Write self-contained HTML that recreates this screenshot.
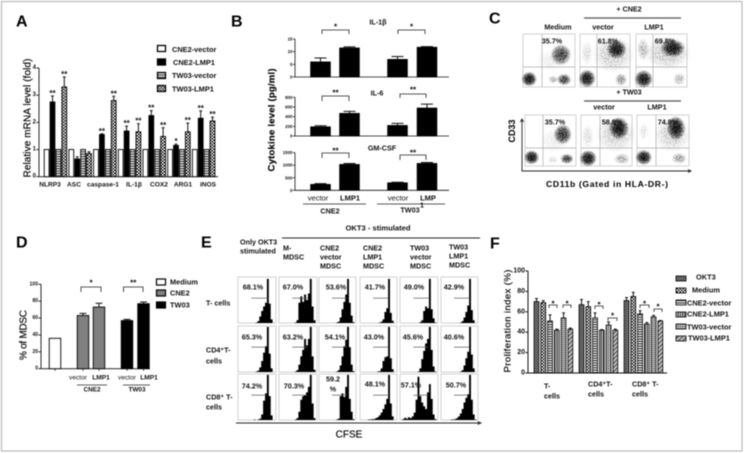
<!DOCTYPE html>
<html lang="en">
<head>
<meta charset="utf-8">
<title>Multi-panel figure</title>
<style>
html,body{margin:0;padding:0;background:#fff;width:745px;height:453px;overflow:hidden}
svg{display:block;filter:blur(0.45px)}
text{font-family:"Liberation Sans",sans-serif;dominant-baseline:central;fill:#111}
.b{font-weight:bold}
.m{text-anchor:middle}
.letter{font-size:16px;font-weight:bold;fill:#000}
.lab{font-size:7.2px;font-weight:bold;fill:#111}
.leg{font-size:7.4px;font-weight:bold;fill:#111}
.tick{font-size:5.2px;font-weight:bold;text-anchor:end;fill:#111}
.title{font-size:10px;fill:#000;stroke:#000;stroke-width:0.15px;text-anchor:middle}
.star{font-size:8px;font-weight:bold;text-anchor:middle;fill:#111}
</style>
</head>
<body>
<svg id="fig" xmlns="http://www.w3.org/2000/svg" width="745" height="453" viewBox="0 0 745 453">
<defs>
  <pattern id="p-hstripe" width="3" height="2.4" patternUnits="userSpaceOnUse"><rect width="3" height="2.4" fill="#fff"/><rect width="3" height="1.2" fill="#333"/></pattern>
  <pattern id="p-vstripe" width="2.2" height="3" patternUnits="userSpaceOnUse"><rect width="2.2" height="3" fill="#eee"/><rect width="1.1" height="3" fill="#222"/></pattern>
  <pattern id="p-check" width="3" height="3" patternUnits="userSpaceOnUse"><rect width="3" height="3" fill="#111"/><rect width="1.5" height="1.5" fill="#fff"/><rect x="1.5" y="1.5" width="1.5" height="1.5" fill="#fff"/></pattern>
  <pattern id="p-dark" width="2.4" height="2.4" patternUnits="userSpaceOnUse"><rect width="2.4" height="2.4" fill="#555"/><rect width="1.2" height="1.2" fill="#888"/></pattern>
  <pattern id="p-fine" width="2" height="2" patternUnits="userSpaceOnUse"><rect width="2" height="2" fill="#bbb"/><rect width="1" height="1" fill="#444"/></pattern>
  <pattern id="p-diag" width="3" height="3" patternUnits="userSpaceOnUse" patternTransform="rotate(45)"><rect width="3" height="3" fill="#ccc"/><rect width="1.3" height="3" fill="#555"/></pattern>
  <radialGradient id="blob"><stop offset="0" stop-color="#000" stop-opacity="1"/><stop offset="0.45" stop-color="#000" stop-opacity="0.8"/><stop offset="1" stop-color="#000" stop-opacity="0"/></radialGradient>
  <filter id="grain" x="0" y="0" width="100%" height="100%">
    <feTurbulence type="fractalNoise" baseFrequency="0.85" numOctaves="2" seed="4" result="n"/>
    <feColorMatrix in="n" type="matrix" values="0 0 0 0 0  0 0 0 0 0  0 0 0 0 0  0 0 0 7 -3" result="s"/>
    <feComposite in="SourceGraphic" in2="s" operator="in"/>
  </filter>
</defs>

<rect x="1.5" y="1.5" width="740.5" height="449.5" fill="#fff" stroke="#b9b9b9" stroke-width="1.2"/>

<!-- panel letters -->
<text class="letter" x="16" y="22">A</text>
<text class="letter" x="231" y="22">B</text>
<text class="letter" x="489" y="19">C</text>
<text class="letter" x="16" y="243">D</text>
<text class="letter" x="201" y="243">E</text>
<text class="letter" x="490" y="244">F</text>

<!-- Panel A -->
<g>
  <text class="title" transform="translate(28 118) rotate(-90)" textLength="119">Relative mRNA level (fold)</text>
  <g>
    <rect x="157.5" y="45.5" width="8" height="6" fill="#fff" stroke="#000" stroke-width="1.3"/>
    <rect x="157.5" y="59" width="8" height="6" fill="#000" stroke="#000" stroke-width="1.3"/>
    <rect x="157.5" y="72.5" width="8" height="6" fill="url(#p-hstripe)" stroke="#000" stroke-width="1.3"/>
    <rect x="157.5" y="85.5" width="8" height="6" fill="url(#p-check)" stroke="#000" stroke-width="1.3"/>
    <text class="leg" x="172" y="49.5">CNE2-vector</text>
    <text class="leg" x="173" y="62.5">CNE2-LMP1</text>
    <text class="leg" x="172" y="75.5">TW03-vector</text>
    <text class="leg" x="172" y="89">TW03-LMP1</text>
  </g>
  <g id="a-marks"></g>
</g>

<!-- Panel B -->
<g>
  <text class="lab m" x="378" y="22">IL-1β</text>
  <text class="lab m" x="377" y="93">IL-6</text>
  <text class="lab m" x="382" y="148">GM-CSF</text>
  <text class="title" style="font-size:9.5px;font-weight:bold" transform="translate(272 120) rotate(-90)" textLength="103">Cytokine level  (pg/ml)</text>
  <g id="b-marks"></g>
  <text class="lab m" style="font-weight:normal;font-size:7.5px" x="318" y="198">vector</text>
  <text class="lab m" style="font-size:7.5px" x="350" y="198">LMP1</text>
  <text class="lab m" style="font-weight:normal;font-size:7.5px" x="398" y="198">vector</text>
  <text class="lab m" style="font-size:7.5px" x="428" y="198">LMP</text>
  <text class="lab" style="font-size:7px" x="420" y="206">1</text>
  <line x1="303" x2="366" y1="204" y2="204" stroke="#222" stroke-width="0.8"/>
  <line x1="377" x2="445" y1="204" y2="204" stroke="#222" stroke-width="0.8"/>
  <text class="lab m" x="330" y="211">CNE2</text>
  <text class="lab m" x="410" y="210">TW03</text>
</g>

<!-- Panel C -->
<g>
  <g id="c-marks"></g>
  <text class="lab m" x="629" y="9">+ CNE2</text>
  <line x1="584" x2="681" y1="18" y2="18" stroke="#555" stroke-width="1.2"/>
  <text class="lab m" x="558" y="27">Medium</text>
  <text class="lab m" x="603" y="27">vector</text>
  <text class="lab m" x="654" y="27">LMP1</text>
  <text class="lab m" x="629" y="92">+ TW03</text>
  <line x1="584" x2="681" y1="101" y2="101" stroke="#555" stroke-width="1.2"/>
  <text class="lab m" x="604" y="107">vector</text>
  <text class="lab m" x="657" y="107">LMP1</text>
  <text class="lab m" x="552" y="41">35.7%</text>
  <text class="lab m" x="608" y="41">61.8%</text>
  <text class="lab m" x="665" y="41">69.8%</text>
  <text class="lab m" x="555" y="122">35.7%</text>
  <text class="lab m" x="612" y="122">58.8%</text>
  <text class="lab m" x="668" y="122">74.8%</text>
  <path d="M522 119V171H690M520.3 122L522 119L523.7 122M688 169.5L691 171L688 172.5" fill="none" stroke="#222" stroke-width="0.9"/>
  <text class="title b" style="font-size:9px;stroke-width:0" transform="translate(512 131) rotate(-90)">CD33</text>
  <text class="title b" style="font-size:8.6px;stroke-width:0" x="607" y="184" textLength="122">CD11b (Gated in HLA-DR-)</text>
</g>

<!-- Panel D -->
<g>
  <text class="title" transform="translate(24 335) rotate(-90)" textLength="50">% of MDSC</text>
  <g id="d-marks"></g>
  <g>
    <rect x="156.5" y="279" width="9" height="6" fill="#fff" stroke="#000" stroke-width="1.2"/>
    <rect x="156.5" y="290" width="9" height="6" fill="#808080" stroke="#000" stroke-width="1.2"/>
    <rect x="156.5" y="302" width="9" height="6" fill="#000" stroke="#000" stroke-width="1.2"/>
    <text class="leg" x="170" y="282">Medium</text>
    <text class="leg" x="170" y="293">CNE2</text>
    <text class="leg" x="170" y="305">TW03</text>
  </g>
  <text class="lab m" style="font-size:6.6px;font-weight:normal" x="78" y="378">vector</text>
  <text class="lab m" style="font-size:6.6px" x="101" y="378">LMP1</text>
  <text class="lab m" style="font-size:6.6px;font-weight:normal" x="127" y="378">vector</text>
  <text class="lab m" style="font-size:6.6px" x="149" y="378">LMP1</text>
  <line x1="77" x2="107" y1="385" y2="385" stroke="#222" stroke-width="0.7"/>
  <line x1="123" x2="150" y1="385" y2="385" stroke="#222" stroke-width="0.7"/>
  <text class="lab m" style="font-size:6.4px" x="92" y="390">CNE2</text>
  <text class="lab m" style="font-size:6.4px" x="137" y="390">TW03</text>
</g>

<!-- Panel E -->
<g>
  <text class="lab m" style="font-size:7.6px" x="378" y="228">OKT3 - stimulated</text>
  <line x1="282" x2="480" y1="238" y2="238" stroke="#222" stroke-width="0.9"/>
  <text class="lab" x="240" y="242">Only OKT3</text>
  <text class="lab" x="240" y="251">stimulated</text>
  <text class="lab" x="283" y="248">M-</text>
  <text class="lab" x="283" y="257">MDSC</text>
  <text class="lab" x="320" y="248">CNE2</text>
  <text class="lab" x="320" y="257">vector</text>
  <text class="lab" x="320" y="266">MDSC</text>
  <text class="lab" x="363" y="248">CNE2</text>
  <text class="lab" x="363" y="257">LMP1</text>
  <text class="lab" x="363" y="266">MDSC</text>
  <text class="lab" x="410" y="248">TW03</text>
  <text class="lab" x="410" y="257">vector</text>
  <text class="lab" x="410" y="266">MDSC</text>
  <text class="lab" x="449" y="247">TW03</text>
  <text class="lab" x="449" y="256">LMP1</text>
  <text class="lab" x="449" y="265">MDSC</text>
  <text class="lab" x="206" y="303">T- cells</text>
  <text class="lab" x="206" y="350">CD4⁺T-</text>
  <text class="lab" x="206" y="361">cells</text>
  <text class="lab" x="206" y="397">CD8⁺ T-</text>
  <text class="lab" x="206" y="407">cells</text>
  <g id="e-marks"></g>
  <text class="lab m" x="253" y="287">68.1%</text>
  <text class="lab m" x="293" y="287">67.0%</text>
  <text class="lab m" x="336" y="287">53.6%</text>
  <text class="lab m" x="375" y="287">41.7%</text>
  <text class="lab m" x="414" y="287">49.0%</text>
  <text class="lab m" x="454" y="287">42.9%</text>
  <text class="lab m" x="252" y="337">65.3%</text>
  <text class="lab m" x="293" y="337">63.2%</text>
  <text class="lab m" x="335" y="337">54.1%</text>
  <text class="lab m" x="374" y="337">43.0%</text>
  <text class="lab m" x="413" y="337">45.6%</text>
  <text class="lab m" x="454" y="337">40.6%</text>
  <text class="lab m" x="252" y="386">74.2%</text>
  <text class="lab m" x="294" y="386">70.3%</text>
  <text class="lab m" x="333" y="379">59.2</text>
  <text class="lab m" x="333" y="389">%</text>
  <text class="lab m" x="375" y="384">48.1%</text>
  <text class="lab m" x="411" y="385">57.1%</text>
  <text class="lab m" x="456" y="385">50.7%</text>
  <path d="M236 423H480M477.5 421.5L481 423L477.5 424.5" fill="none" stroke="#222" stroke-width="0.9"/>
  <text class="title" x="349" y="435">CFSE</text>
</g>

<!-- Panel F -->
<g>
  <text class="title" style="font-size:9.6px" transform="translate(508 321) rotate(-90)" textLength="103">Proliferation index (%)</text>
  <g id="f-marks"></g>
  <text class="lab" x="544" y="386">T-</text>
  <text class="lab" x="544" y="396">cells</text>
  <text class="lab" x="588" y="384">CD4⁺T-</text>
  <text class="lab" x="588" y="394">cells</text>
  <text class="lab" x="632" y="384">CD8⁺ T-</text>
  <text class="lab" x="632" y="394">cells</text>
  <g>
    <rect x="676" y="276" width="10" height="5" fill="url(#p-dark)" stroke="#000" stroke-width="0.8"/>
    <rect x="676" y="288" width="10" height="5" fill="url(#p-check)" stroke="#000" stroke-width="0.8"/>
    <rect x="676" y="300" width="10" height="5" fill="url(#p-hstripe)" stroke="#000" stroke-width="0.8"/>
    <rect x="676" y="312" width="10" height="5" fill="url(#p-vstripe)" stroke="#000" stroke-width="0.8"/>
    <rect x="676" y="324" width="10" height="5" fill="url(#p-fine)" stroke="#000" stroke-width="0.8"/>
    <rect x="676" y="336" width="10" height="5" fill="url(#p-diag)" stroke="#000" stroke-width="0.8"/>
    <text class="leg" x="696" y="277">OKT3</text>
    <text class="leg" x="692" y="290">Medium</text>
    <text class="leg" x="687" y="303">CNE2-vector</text>
    <text class="leg" x="687" y="314">CNE2-LMP1</text>
    <text class="leg" x="687" y="327">TW03-vector</text>
    <text class="leg" x="688" y="338">TW03-LMP1</text>
  </g>
</g>

<script>
/* ---------- Panel A data ---------- */
var aCategories = ['NLRP3','ASC','caspase-1','IL-1β','COX2','ARG1','iNOS'];
var aCne2Vector = [1,1,1,1,1,1,1];
var aCne2Lmp1 = [2.75,0.65,1.55,1.68,2.25,1.15,2.15];
var aTw03Vector = [1,1,1,1,1,1,1];
var aTw03Lmp1 = [3.3,0.85,2.8,1.65,1.48,1.65,2.05];
var aErrCne2Lmp1 = [0.22,0.08,0.03,0.18,0.18,0.05,0.27];
var aErrTw03Lmp1 = [0.37,0.07,0.16,0.3,0.32,0.32,0.14];
var aSigCne2 = ['**','','**','**','**','*','**'];
var aSigTw03 = ['**','','**','**','**','**','**'];
var aTicks = [0,1,2,3,4];

/* ---------- Panel B data ---------- */
var bIl1 = [6,11.5,7,11.8];
var bIl1Err = [1.5,0.4,1.1,0.2];
var bIl1Ticks = [0,5,10,15];
var bIl6 = [193,470,220,580];
var bIl6Err = [20,40,40,80];
var bIl6Ticks = [0,200,400,600,800];
var bGm = [240,1035,305,1075];
var bGmErr = [25,35,15,35];
var bGmTicks = [0,500,1000,1500];

/* ---------- Panel D data ---------- */
var dCategories = ['Medium','CNE2 vector','CNE2 LMP1','TW03 vector','TW03 LMP1'];
var dValues = [36,63,73,57,77];
var dErrors = [0,2.5,4.5,1.5,2];
var dTicks = [0,20,40,60,80,100];

/* ---------- Panel F data ---------- */
var fGroups = ['T-cells','CD4 T-cells','CD8 T-cells'];
var fOkt3 = [70,67,71];
var fMedium = [69,65,75];
var fCne2Vector = [51,54,58];
var fCne2Lmp1 = [42,42,48];
var fTw03Vector = [54,47,55];
var fTw03Lmp1 = [43,42,51];
var fErrOkt3 = [3,5,3];
var fErrMedium = [2,5,4];
var fErrCne2Vector = [6,5,3];
var fErrCne2Lmp1 = [1,0.5,1.5];
var fErrTw03Vector = [5,3,1.5];
var fErrTw03Lmp1 = [1,1,0.5];
var fTicks = [0,20,40,60,80,100];

/* ---------- Panel E histogram counts (percent of panel height per bin) ---------- */
var eR1C1 = [0,0,0,0,0,0,0,0,0,0,1,4,14,26,36,44,96,42,8,0];
var eR1C2 = [0,0,0,0,0,0,0,0,0,1,6,44,58,46,62,50,64,96,36,6];
var eR1C3 = [0,0,0,0,0,0,0,0,0,0,1,3,12,30,46,62,96,44,16,2];
var eR1C4 = [0,0,0,0,0,0,0,0,0,0,0,1,3,8,24,32,96,22,5,0];
var eR1C5 = [0,0,0,0,0,0,0,0,0,0,0,2,6,26,36,32,96,30,10,1];
var eR1C6 = [0,0,0,0,0,0,0,0,0,0,0,1,4,12,24,38,96,28,6,0];
var eR2C1 = [0,0,0,0,0,0,0,0,0,0,1,3,10,24,42,56,98,40,8,0];
var eR2C2 = [0,0,0,0,0,0,0,0,0,1,4,16,34,48,72,58,72,98,34,5];
var eR2C3 = [0,0,0,0,0,0,0,0,0,0,1,4,14,34,56,70,98,54,16,2];
var eR2C4 = [0,0,0,0,0,0,0,0,0,0,1,2,8,24,32,34,98,30,6,0];
var eR2C5 = [0,0,0,0,0,0,0,0,0,0,1,8,28,46,62,72,98,48,12,1];
var eR2C6 = [0,0,0,0,0,0,0,0,0,0,0,1,4,14,30,44,98,38,8,0];
var eR3C1 = [0,0,0,0,0,0,0,0,0,1,0,1,3,12,42,58,98,52,10,0];
var eR3C2 = [0,0,0,0,0,0,0,0,0,1,4,18,44,52,54,60,72,98,36,4];
var eR3C3 = [0,0,0,0,0,0,0,0,0,0,1,3,52,58,50,72,98,46,18,2];
var eR3C4 = [0,0,0,0,0,1,1,2,2,4,6,10,16,24,34,46,98,36,8,0];
var eR3C5 = [0,0,2,5,3,6,4,8,16,44,94,52,38,30,24,60,78,46,12,2];
var eR3C6 = [0,0,0,0,0,0,1,1,2,4,8,14,24,38,48,56,98,44,12,1];

/* ---------- Panel C population clusters: centre x, centre y, spread x, spread y, density (0-1 fractions of plot) ---------- */
var cR1Medium = [[.73,.39,.2,.2,.85],[.55,.5,.3,.2,.12],[.12,.85,.15,.14,1],[.79,.86,.14,.11,.85],[.58,.86,.1,.08,.4]];
var cR1Vector = [[.73,.29,.2,.18,1],[.66,.38,.42,.36,.3],[.14,.84,.17,.17,1],[.82,.86,.12,.12,.55],[.14,.36,.12,.24,.2]];
var cR1Lmp1 = [[.72,.27,.24,.17,1],[.62,.36,.46,.32,.32],[.15,.85,.18,.17,1],[.85,.85,.12,.12,.4],[.14,.29,.12,.22,.38]];
var cR2Medium = [[.74,.38,.18,.2,.9],[.58,.5,.3,.24,.12],[.13,.83,.15,.14,1],[.82,.86,.13,.1,.85],[.55,.88,.1,.08,.2]];
var cR2Vector = [[.74,.26,.2,.22,1],[.68,.38,.4,.36,.28],[.14,.85,.17,.16,1],[.8,.86,.16,.11,.45],[.13,.42,.12,.24,.2]];
var cR2Lmp1 = [[.75,.26,.18,.24,1],[.68,.38,.36,.36,.28],[.13,.83,.16,.15,1],[.81,.85,.15,.11,.5],[.13,.32,.09,.18,.18]];

/* ---------- helpers ---------- */
var NS = 'http://www.w3.org/2000/svg';
function linear(d0, d1, r0, r1) {
  return function (v) { return r0 + (v - d0) / (d1 - d0) * (r1 - r0); };
}
function add(parent, tag, attrs, name, label) {
  var node = document.createElementNS(NS, tag);
  for (var k in attrs) { node.setAttribute(k, attrs[k]); }
  
  
  if (label !== undefined) { node.textContent = label; }
  parent.appendChild(node);
  return node;
}
function yAxis(g, x, y, ticks, xEnd, prefix, tickSize, sw, fs) {
  add(g, 'line', {x1: x, x2: x, y1: y(ticks[ticks.length - 1]), y2: y(ticks[0]), stroke: '#111', 'stroke-width': sw}, prefix + '-y-axis');
  add(g, 'line', {x1: x, x2: xEnd, y1: y(ticks[0]), y2: y(ticks[0]), stroke: '#111', 'stroke-width': sw}, prefix + '-x-axis');
  ticks.forEach(function (t) {
    add(g, 'line', {x1: x - tickSize, x2: x, y1: y(t), y2: y(t), stroke: '#111', 'stroke-width': sw}, prefix + '-y-tick');
    var txt = add(g, 'text', {x: x - tickSize - 0.5, y: y(t), 'class': 'tick'}, prefix + '-y-tick-label', String(t));
    if (fs) { txt.style.fontSize = fs + 'px'; }
  });
}
function bar(g, cx, w, y, v, err, fill, name, sw) {
  var top = y(v), base = y(0);
  if (err > 0) {
    add(g, 'path', {d: 'M' + cx + ' ' + top + 'V' + y(v + err) + 'M' + (cx - w * 0.3) + ' ' + y(v + err) + 'H' + (cx + w * 0.3), stroke: '#111', 'stroke-width': 1, fill: 'none'}, name + '-error');
  }
  add(g, 'rect', {x: cx - w / 2, y: top, width: w, height: base - top, fill: fill, stroke: '#000', 'stroke-width': sw}, name);
}
function bracket(g, x1, x2, yTop, drop, stars, starY, name) {
  add(g, 'path', {d: 'M' + x1 + ' ' + (yTop + drop) + 'V' + yTop + 'H' + x2 + 'V' + (yTop + drop), fill: 'none', stroke: '#222', 'stroke-width': 0.8}, name + '-bracket');
  add(g, 'text', {x: (x1 + x2) / 2, y: starY, 'class': 'star'}, name + '-significance', stars);
}

/* ---------- Panel A ---------- */
(function () {
  var g = document.getElementById('a-marks');
  var y = linear(0, 4, 176.7, 68);
  yAxis(g, 39, y, aTicks, 218, 'a', 2.5, 0.9, 6);
  var gx = linear(0, 1, 46.6, 71.3);
  var series = [aCne2Vector, aCne2Lmp1, aTw03Vector, aTw03Lmp1];
  var errs = [null, aErrCne2Lmp1, null, aErrTw03Lmp1];
  var fills = ['#fff', '#000', 'url(#p-hstripe)', 'url(#p-check)'];
  var names = ['cne2-vector', 'cne2-lmp1', 'tw03-vector', 'tw03-lmp1'];
  var labelCentres = [50, 74, 103, 134, 159, 183, 208];
  aCategories.forEach(function (c, i) {
    series.forEach(function (s, j) {
      var cx = gx(i) + j * 5.9;
      bar(g, cx, 4.8, y, s[i], errs[j] ? errs[j][i] : 0, fills[j], 'a-bar-' + names[j], 0.9);
    });
    var e1 = aCne2Lmp1[i] + aErrCne2Lmp1[i], e2 = aTw03Lmp1[i] + aErrTw03Lmp1[i];
    if (aSigCne2[i]) { add(g, 'text', {x: gx(i) + 5.9, y: y(e1) - 2.5, 'class': 'star'}, 'a-significance', aSigCne2[i]); }
    if (aSigTw03[i]) { add(g, 'text', {x: gx(i) + 17.7, y: y(e2) - 2.5, 'class': 'star'}, 'a-significance', aSigTw03[i]); }
    var t = add(g, 'text', {x: labelCentres[i], y: 185, 'class': 'lab m'}, 'a-x-tick-label', c);
    t.style.fontSize = '6.6px';
  });
})();

/* ---------- Panel B ---------- */
(function () {
  var g = document.getElementById('b-marks');
  var centres = [320.5, 349.5, 397.5, 427];
  var panels = [
    {v: bIl1, e: bIl1Err, t: bIl1Ticks, y0: 77, y1: 39, n: 'il1b'},
    {v: bIl6, e: bIl6Err, t: bIl6Ticks, y0: 136, y1: 97.3, n: 'il6'},
    {v: bGm, e: bGmErr, t: bGmTicks, y0: 190.3, y1: 152.7, n: 'gmcsf'}
  ];
  panels.forEach(function (p) {
    var y = linear(p.t[0], p.t[p.t.length - 1], p.y0, p.y1);
    yAxis(g, 295, y, p.t, 449, 'b-' + p.n, 2, 0.8, 4.4);
    p.v.forEach(function (v, i) {
      bar(g, centres[i], 20, y, v, p.e[i], '#000', 'b-bar-' + p.n, 0.5);
    });
  });
  bracket(g, 322, 349, 30, 4, '*', 27, 'b-il1b-cne2');
  bracket(g, 398, 425, 30, 4, '*', 27, 'b-il1b-tw03');
  bracket(g, 322, 349, 96, 5, '**', 93, 'b-il6-cne2');
  bracket(g, 400, 426, 94, 4, '**', 90, 'b-il6-tw03');
  bracket(g, 322, 349, 153, 5, '**', 151, 'b-gmcsf-cne2');
  bracket(g, 400, 426, 155, 5, '**', 153, 'b-gmcsf-tw03');
})();

/* ---------- Panel C ---------- */
(function () {
  var g = document.getElementById('c-marks');
  var plots = [
    {c: cR1Medium, x: 523, y: 34, w: 52, h: 53, gx: 542, gy: 67, n: 'r1-medium'},
    {c: cR1Vector, x: 580, y: 34, w: 50, h: 53, gx: 597, gy: 67, n: 'r1-vector'},
    {c: cR1Lmp1, x: 636, y: 34, w: 51, h: 53, gx: 653, gy: 67, n: 'r1-lmp1'},
    {c: cR2Medium, x: 525, y: 115, w: 51, h: 51, gx: 543, gy: 148, n: 'r2-medium'},
    {c: cR2Vector, x: 581, y: 115, w: 51, h: 51, gx: 600, gy: 148, n: 'r2-vector'},
    {c: cR2Lmp1, x: 637, y: 115, w: 52, h: 51, gx: 656, gy: 148, n: 'r2-lmp1'}
  ];
  plots.forEach(function (p) {
    var sx = linear(0, 1, p.x, p.x + p.w), sy = linear(0, 1, p.y, p.y + p.h);
    var plot = add(g, 'g', {}, 'c-plot-' + p.n);
    add(plot, 'rect', {x: p.x, y: p.y, width: p.w, height: p.h, fill: '#fff', stroke: '#c8c8c8', 'stroke-width': 0.8}, 'c-plot-frame');
    var soft = add(plot, 'g', {opacity: 0.8}, 'c-density');
    var grainy = add(plot, 'g', {filter: 'url(#grain)'}, 'c-events');
    p.c.forEach(function (k) {
      add(soft, 'ellipse', {cx: sx(k[0]), cy: sy(k[1]), rx: k[2] * p.w, ry: k[3] * p.h, fill: 'url(#blob)', opacity: k[4] * k[4] * k[4]}, 'c-population-density');
      add(grainy, 'ellipse', {cx: sx(k[0]), cy: sy(k[1]), rx: k[2] * p.w, ry: k[3] * p.h, fill: 'url(#blob)', opacity: k[4]}, 'c-population-events');
    });
    add(plot, 'line', {x1: p.gx, x2: p.gx, y1: p.y, y2: p.y + p.h, stroke: '#aaa', 'stroke-width': 0.7}, 'c-gate-vertical');
    add(plot, 'line', {x1: p.x, x2: p.x + p.w, y1: p.gy, y2: p.gy, stroke: '#aaa', 'stroke-width': 0.7}, 'c-gate-horizontal');
  });
})();

/* ---------- Panel D ---------- */
(function () {
  var g = document.getElementById('d-marks');
  var y = linear(0, 100, 368.7, 284.3);
  yAxis(g, 41, y, dTicks, 150, 'd', 2.5, 0.9, 5);
  var centres = [55, 83, 99, 127, 143.5];
  var fills = ['#fff', '#808080', '#808080', '#000', '#000'];
  dValues.forEach(function (v, i) {
    bar(g, centres[i], 11.5, y, v, dErrors[i], fills[i], 'd-bar', 0.9);
    add(g, 'line', {x1: centres[i], x2: centres[i], y1: y(0), y2: y(0) + 2, stroke: '#111', 'stroke-width': 0.8}, 'd-x-tick');
  });
  bracket(g, 81, 101, 287, 5, '*', 283, 'd-cne2');
  bracket(g, 123.5, 143, 287, 5, '**', 283, 'd-tw03');
})();

/* ---------- Panel E ---------- */
(function () {
  var g = document.getElementById('e-marks');
  var rows = [[277, 46], [326, 46], [374, 46]];
  var cols = [[238, 38], [279, 38], [319, 37], [360, 37], [400, 38], [441, 37]];
  var data = [
    [eR1C1, eR1C2, eR1C3, eR1C4, eR1C5, eR1C6],
    [eR2C1, eR2C2, eR2C3, eR2C4, eR2C5, eR2C6],
    [eR3C1, eR3C2, eR3C3, eR3C4, eR3C5, eR3C6]
  ];
  data.forEach(function (row, r) {
    row.forEach(function (counts, c) {
      var X = cols[c][0], W = cols[c][1], Y = rows[r][0], H = rows[r][1];
      add(g, 'rect', {x: X, y: Y, width: W, height: H, fill: '#fff', stroke: '#c8c8c8', 'stroke-width': 0.8}, 'e-histogram-frame');
      var sx = linear(0, counts.length, X - 1.5, X + W - 1.5), sy = linear(0, 100, Y + H, Y);
      var d = 'M' + sx(0) + ' ' + sy(0);
      counts.forEach(function (v, i) {
        d += 'L' + sx(i) + ' ' + sy(v) + 'L' + sx(i + 1) + ' ' + sy(v);
      });
      d += 'L' + sx(counts.length) + ' ' + sy(0) + 'Z';
      add(g, 'path', {d: d, fill: '#000'}, 'e-histogram');
      add(g, 'line', {x1: X + W * 0.35, x2: X + W * 0.75, y1: Y + H * 0.46, y2: Y + H * 0.46, stroke: '#555', 'stroke-width': 0.7}, 'e-gate');
    });
  });
})();

/* ---------- Panel F ---------- */
(function () {
  var g = document.getElementById('f-marks');
  var y = linear(0, 100, 373, 271);
  yAxis(g, 528, y, fTicks, 667, 'f', 2.5, 1, 7);
  var gx = linear(0, 1, 536.5, 581.5);
  var series = [fOkt3, fMedium, fCne2Vector, fCne2Lmp1, fTw03Vector, fTw03Lmp1];
  var errs = [fErrOkt3, fErrMedium, fErrCne2Vector, fErrCne2Lmp1, fErrTw03Vector, fErrTw03Lmp1];
  var fills = ['url(#p-dark)', 'url(#p-check)', 'url(#p-hstripe)', 'url(#p-vstripe)', 'url(#p-fine)', 'url(#p-diag)'];
  var names = ['okt3', 'medium', 'cne2-vector', 'cne2-lmp1', 'tw03-vector', 'tw03-lmp1'];
  fGroups.forEach(function (name, i) {
    series.forEach(function (s, j) {
      bar(g, gx(i) + j * 6.77, 4.8, y, s[i], errs[j][i], fills[j], 'f-bar-' + names[j], 0.8);
    });
  });
  bracket(g, 549, 557, 305, 3, '*', 304, 'f-t-cne2');
  bracket(g, 563, 571, 305, 3, '*', 304, 'f-t-tw03');
  bracket(g, 595, 603, 306, 3, '*', 305, 'f-cd4-cne2');
  bracket(g, 608, 617, 318, 3, '*', 316, 'f-cd4-tw03');
  bracket(g, 640, 649, 305, 3, '*', 304, 'f-cd8-cne2');
  bracket(g, 654, 662, 309, 3, '*', 307, 'f-cd8-tw03');
})();
</script>
</svg>
</body>
</html>
